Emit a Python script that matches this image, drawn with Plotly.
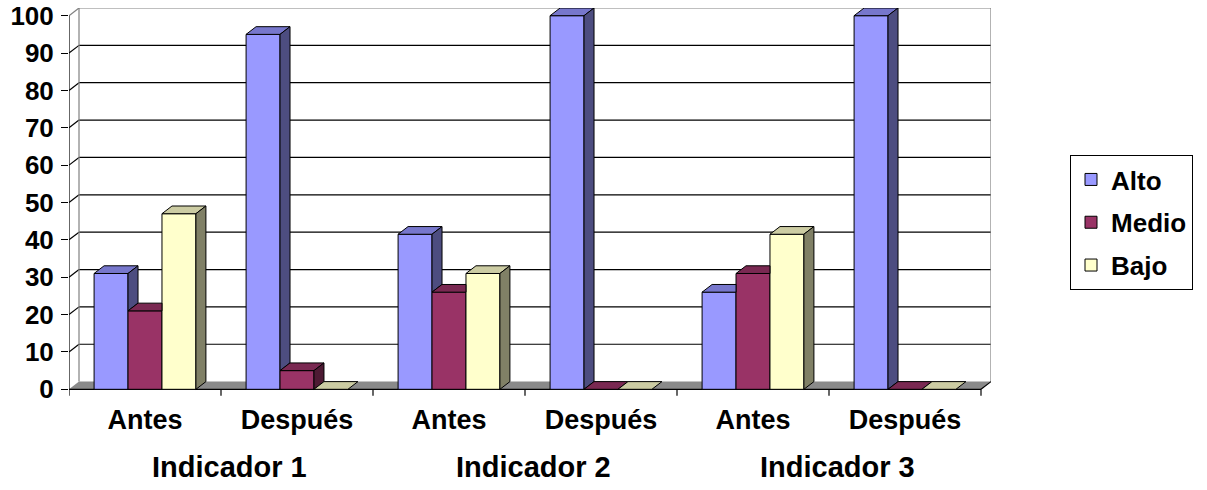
import plotly.graph_objects as go

# ---- data ----
categories = ["Antes", "Después", "Antes", "Después", "Antes", "Después"]
groups = ["Indicador 1", "Indicador 2", "Indicador 3"]
series_names = ["Alto", "Medio", "Bajo"]
alto = [31, 95, 41.5, 100, 26, 100]
medio = [21, 5, 26, 0, 31, 0]
bajo = [47, 0, 31, 0, 41.5, 0]
y_ticks = list(range(0, 101, 10))

# ---- style ----
front_colors = ["#9999FF", "#993366", "#FFFFCC"]
top_colors = ["#7777CC", "#7A2952", "#CCCCA3"]
side_colors = ["#4D4D80", "#4D1A33", "#808066"]
FONT = "Arial, Liberation Sans, sans-serif"
DX = 0.0658   # depth offset in x units
DY = 2.06     # depth offset in y units
BARGAP = 0.33
YMIN, YMAX = -2.06, 100 + DY
XMIN, XMAX = -0.5, len(categories) - 0.5 + DX

series = [alto, medio, bajo]
n_series = len(series)
xpos = list(range(len(categories)))
w = (1 - BARGAP) / n_series

fig = go.Figure()

# front faces: real bar traces
for k, (name, vals) in enumerate(zip(series_names, series)):
    fig.add_trace(go.Bar(
        x=xpos, y=vals, name=name, legendgroup=name,
        marker=dict(color=front_colors[k], line=dict(color="black", width=1)),
        width=w,
    ))

# 3D extrusion (top and side faces) derived from the same values
for k, vals in enumerate(series):
    tx, ty, sx, sy = [], [], [], []
    for i, v in enumerate(vals):
        xl = xpos[i] - (1 - BARGAP) / 2 + k * w
        xr = xl + w
        nxt = series[k + 1][i] if k < n_series - 1 else None
        # top face
        if nxt is not None and nxt > v:
            tx += [xl, xr, xr, xl + DX, xl, None]
            ty += [v, v, v + DY, v + DY, v, None]
        else:
            tx += [xl, xr, xr + DX, xl + DX, xl, None]
            ty += [v, v, v + DY, v + DY, v, None]
        # side face
        b = nxt if nxt is not None else 0
        if v - b > 0:
            sx += [xr, xr + DX, xr + DX, xr, xr, None]
            sy += [b, b + DY, v + DY, v, b, None]
    fig.add_trace(go.Scatter(x=tx, y=ty, mode="lines", fill="toself",
                             fillcolor=top_colors[k], line=dict(color="black", width=1),
                             showlegend=False, hoverinfo="skip", legendgroup=series_names[k]))
    fig.add_trace(go.Scatter(x=sx, y=sy, mode="lines", fill="toself",
                             fillcolor=side_colors[k], line=dict(color="black", width=1),
                             showlegend=False, hoverinfo="skip", legendgroup=series_names[k]))

shapes = []
# floor
shapes.append(dict(type="path", layer="below", xref="x", yref="y",
                   path=f"M {XMIN},0 L {XMAX-DX},0 L {XMAX},{DY} L {XMIN+DX},{DY} Z",
                   fillcolor="#8A8A8A", line=dict(width=0)))
# back wall gridlines & left wall diagonals
for t in y_ticks[1:]:
    col = "#808080" if t == y_ticks[-1] else "black"
    shapes.append(dict(type="line", layer="below", xref="x", yref="y",
                       x0=XMIN + DX, x1=XMAX, y0=t + DY, y1=t + DY,
                       line=dict(color=col, width=1.2)))
    shapes.append(dict(type="line", layer="below", xref="x", yref="y",
                       x0=XMIN, x1=XMIN + DX, y0=t, y1=t + DY,
                       line=dict(color=col, width=1.2)))
# back wall verticals
for xv in (XMIN + DX, XMAX):
    shapes.append(dict(type="line", layer="below", xref="x", yref="y",
                       x0=xv, x1=xv, y0=DY, y1=100 + DY,
                       line=dict(color="#808080", width=1.2)))
# front value axis line
shapes.append(dict(type="line", layer="below", xref="x", yref="y",
                   x0=XMIN, x1=XMIN, y0=0, y1=100, line=dict(color="black", width=1.2)))
# floor front edge and right diagonal
shapes.append(dict(type="line", layer="below", xref="x", yref="y",
                   x0=XMIN, x1=XMAX - DX, y0=0, y1=0, line=dict(color="black", width=1.2)))
shapes.append(dict(type="line", layer="below", xref="x", yref="y",
                   x0=XMAX - DX, x1=XMAX, y0=0, y1=DY, line=dict(color="black", width=1.2)))
# category boundary ticks
for bnd in range(len(categories) + 1):
    xb = bnd - 0.5
    shapes.append(dict(type="line", layer="above", xref="x", yref="y",
                       x0=xb, x1=xb, y0=0, y1=-1.7, line=dict(color="black", width=1.2)))

annotations = []
for g, name in enumerate(groups):
    annotations.append(dict(x=2 * g + 0.5, y=-0.18, xref="x", yref="paper",
                            text=name, showarrow=False, xanchor="center", yanchor="middle",
                            xshift=8,
                            font=dict(family=FONT, size=29, color="black", weight="bold")))

fig.update_layout(
    width=1207, height=490,
    margin=dict(l=69, r=216, t=8, b=93, autoexpand=False),
    paper_bgcolor="white", plot_bgcolor="white",
    barmode="group", bargap=BARGAP, bargroupgap=0,
    shapes=shapes, annotations=annotations,
    showlegend=True,
    legend=dict(x=1.0857, y=0.622, xanchor="left", yanchor="top",
                bordercolor="black", borderwidth=1, bgcolor="white",
                font=dict(family=FONT, size=26, color="black", weight="bold"),
                tracegroupgap=6, traceorder="grouped", itemwidth=30),
    xaxis=dict(range=[XMIN, XMAX], tickvals=xpos, ticktext=categories,
               showgrid=False, zeroline=False, showline=False, ticks="",
               ticklabelstandoff=4,
               tickfont=dict(family=FONT, size=27, color="black", weight="bold"),
               fixedrange=True),
    yaxis=dict(range=[YMIN, YMAX], tickvals=y_ticks, ticks="outside", ticklen=7,
               tickcolor="black", tickwidth=1.2, showgrid=False, zeroline=False,
               showline=False, ticklabelstandoff=2,
               tickfont=dict(family=FONT, size=26, color="black", weight="bold"),
               fixedrange=True),
)

fig.write_html("out.html", config={"displayModeBar": False},
               post_script="document.body.style.margin='0';")
